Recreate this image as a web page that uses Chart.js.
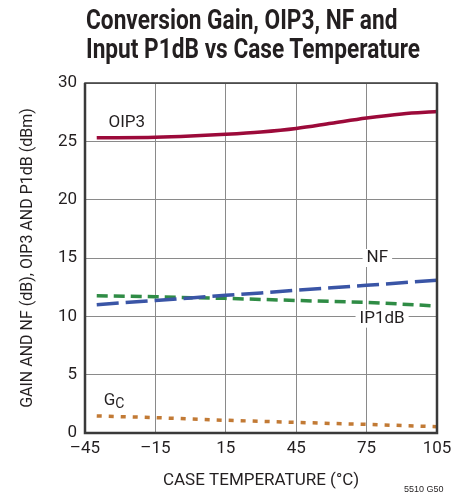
<!DOCTYPE html>
<html>
<head>
<meta charset="utf-8">
<script src="https://cdn.jsdelivr.net/npm/chart.js@4.4.0/dist/chart.umd.min.js"></script>
<style>
    body { margin: 0; background: #fff; }
    #wrap { position: relative; width: 467px; height: 495px; }
    #titulo {
        position: absolute; left: 86px; top: 6px;
        font-family: 'Liberation Sans Narrow', 'Roboto', sans-serif;
        font-weight: bold; font-size: 27px; line-height: 29px; color: #231f20;
        transform-origin: left top; transform: scaleX(0.84); white-space: nowrap;
    }
    #nota {
        position: absolute; left: 404px; top: 484px;
        font-family: 'Liberation Sans Narrow', sans-serif; font-size: 9px; color: #231f20;
    }
    canvas { position: absolute; left: 0; top: 0; }
</style>
</head>
<body>
<div id="wrap">
    <canvas id="myChart" width="467" height="495"></canvas>
    <div id="titulo">Conversion Gain, OIP3, NF and<br>Input P1dB vs Case Temperature</div>
    <div id="nota">5510 G50</div>
</div>
<script>
// dados
var temps = [-40, -15, 0, 15, 30, 45, 60, 75, 90, 105];
var oip3 = [25.3, 25.35, 25.45, 25.6, 25.8, 26.1, 26.55, 27.0, 27.35, 27.55];
var nf = [11.0, 11.36, 11.58, 11.8, 12.01, 12.25, 12.45, 12.66, 12.88, 13.1];
var ip1db = [11.77, 11.68, 11.6, 11.54, 11.45, 11.36, 11.28, 11.2, 11.05, 10.88];
var gc = [1.46, 1.32, 1.2, 1.09, 1.0, 0.91, 0.82, 0.74, 0.64, 0.54];

var xTicks = [-45, -15, 15, 45, 75, 105];
var yTicks = [0, 5, 10, 15, 20, 25, 30];

// rotulos das curvas: [texto, temperatura, valor]
var rotulos = [
    ['OIP3', -35, 26.6],
    ['NF', 75, 15],
    ['IP1dB', 72, 9.8],
    ['G', -37, 2.8]
];

var fonte = "'Liberation Sans Narrow', 'Roboto', sans-serif";

function pontos(arr) {
    return temps.map(function(t, i) { return { x: t, y: arr[i] }; });
}

var moldura = {
    id: 'moldura',
    afterDatasetsDraw: function(chart) {
        var ctx = chart.ctx;
        var a = chart.chartArea;
        var sx = chart.scales.x, sy = chart.scales.y;
        ctx.save();
        ctx.strokeStyle = '#3a3a3a';
        ctx.lineWidth = 1.5;
        ctx.strokeRect(a.left, a.top, a.right - a.left, a.bottom - a.top);
        ctx.lineWidth = 2.5;
        ctx.beginPath();
        ctx.moveTo(a.left, a.top); ctx.lineTo(a.left, a.bottom); ctx.lineTo(a.right, a.bottom); ctx.lineTo(a.right, a.top);
        ctx.stroke();

        ctx.font = '17px ' + fonte;
        ctx.textBaseline = 'middle';
        ctx.fillStyle = '#231f20';
        rotulos.forEach(function(r) {
            var px = sx.getPixelForValue(r[1]);
            var py = sy.getPixelForValue(r[2]);
            var w = ctx.measureText(r[0]).width;
            if (r[0] == 'NF' || r[0] == 'IP1dB') {
                ctx.fillStyle = '#fff';
                ctx.fillRect(px - 4, py - 9, w + 8, 18);
                ctx.fillStyle = '#231f20';
            }
            ctx.fillText(r[0], px, py);
            if (r[0] == 'G') {
                ctx.font = '14px ' + fonte;
                ctx.fillText('C', px + w, py + 4);
                ctx.font = '17px ' + fonte;
            }
        });
        ctx.restore();
    }
};

function montarGrafico() {
    var ctx = document.getElementById('myChart').getContext('2d');
    new Chart(ctx, {
        type: 'line',
        data: {
            datasets: [{
                label: 'OIP3',
                data: pontos(oip3),
                borderColor: '#9c0a3a',
                borderWidth: 3.5,
                cubicInterpolationMode: 'monotone'
            }, {
                label: 'NF',
                data: pontos(nf),
                borderColor: '#3a55a6',
                borderWidth: 3.5,
                borderDash: [22, 7]
            }, {
                label: 'IP1dB',
                data: pontos(ip1db),
                borderColor: '#2f8c45',
                borderWidth: 3.5,
                borderDash: [11, 6]
            }, {
                label: 'GC',
                data: pontos(gc),
                borderColor: '#c27a35',
                borderWidth: 3.5,
                borderDash: [5, 7]
            }]
        },
        options: {
            responsive: false,
            animation: false,
            elements: { point: { radius: 0 } },
            layout: { padding: { left: 18, right: 30, top: 83, bottom: 0 } },
            plugins: { legend: { display: false }, tooltip: { enabled: false } },
            scales: {
                x: {
                    type: 'linear', min: -45, max: 105,
                    afterBuildTicks: function(s) { s.ticks = xTicks.map(function(v) { return { value: v }; }); },
                    afterFit: function(s) { s.height = 62; },
                    ticks: {
                        color: '#231f20', font: { family: fonte, size: 17 }, padding: 6,
                        callback: function(v) { return String(v).replace('-', '\u2013'); }
                    },
                    grid: { color: '#8a8a8a', lineWidth: 1, drawTicks: false },
                    border: { display: false },
                    title: { display: true, text: 'CASE TEMPERATURE (°C)', color: '#231f20', font: { family: fonte, size: 17 }, padding: { top: 6 } }
                },
                y: {
                    min: 0, max: 30,
                    afterBuildTicks: function(s) { s.ticks = yTicks.map(function(v) { return { value: v }; }); },
                    afterFit: function(s) { s.width = 67; },
                    ticks: { color: '#231f20', font: { family: fonte, size: 17 }, padding: 8 },
                    grid: { color: '#8a8a8a', lineWidth: 1, drawTicks: false },
                    border: { display: false },
                    title: { display: true, text: 'GAIN AND NF (dB), OIP3 AND P1dB (dBm)', color: '#231f20', font: { family: fonte, size: 16 }, padding: 0 }
                }
            }
        },
        plugins: [moldura]
    });
}

montarGrafico();
</script>
</body>
</html>
